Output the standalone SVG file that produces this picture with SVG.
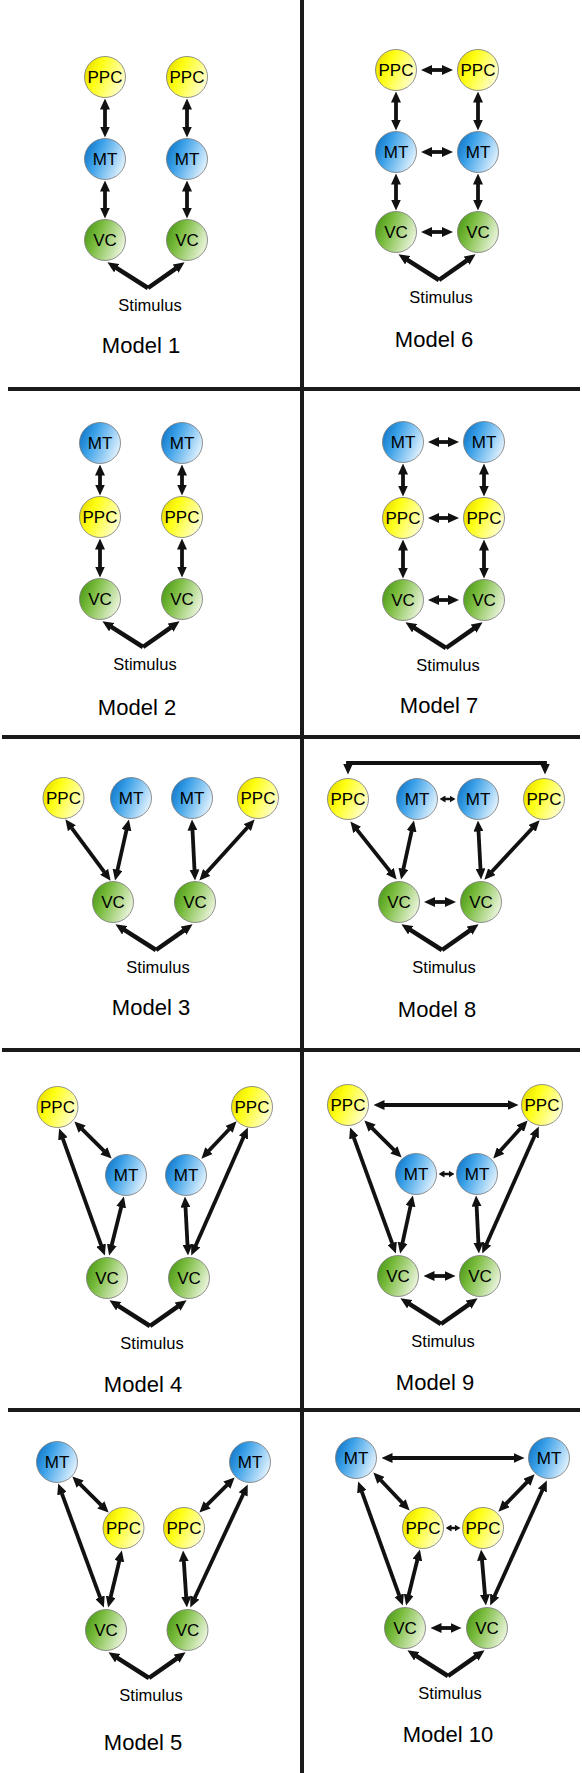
<svg xmlns="http://www.w3.org/2000/svg" xmlns:xlink="http://www.w3.org/1999/xlink" width="582" height="1773" viewBox="0 0 582 1773">
<style>
text{font-family:"Liberation Sans",Arial,sans-serif;fill:#000;text-anchor:middle}
.n text{font-size:17px}
.lbl{font-size:16.5px}
.ttl{font-size:22px}
circle{stroke:#777;stroke-width:0.8}
.ppc{fill:url(#gy)}
.mt{fill:url(#gb)}
.vc{fill:url(#gg)}
.sep{stroke:#1a1a1a;stroke-width:4;fill:none}
.a{stroke:#111;stroke-width:3.8;fill:none;marker-start:url(#ah);marker-end:url(#ah)}
.s{stroke:#111;stroke-width:2.5;fill:none;marker-start:url(#ahs);marker-end:url(#ahs)}
.st{stroke:#111;stroke-width:4.5;fill:none;marker-end:url(#ah)}
.br{stroke:#111;stroke-width:3.8;fill:none;stroke-linejoin:miter;marker-start:url(#ah);marker-end:url(#ah)}
</style>
<defs>
<linearGradient id="gy" x1="0" y1="0.3" x2="1" y2="0.7"><stop offset="0" stop-color="#e6dc00"/><stop offset="0.3" stop-color="#ffff10"/><stop offset="1" stop-color="#ffffe0"/></linearGradient>
<linearGradient id="gb" x1="0" y1="0.3" x2="1" y2="0.7"><stop offset="0" stop-color="#1478c8"/><stop offset="0.3" stop-color="#3aa0e8"/><stop offset="1" stop-color="#eaf6ff"/></linearGradient>
<linearGradient id="gg" x1="0" y1="0.3" x2="1" y2="0.7"><stop offset="0" stop-color="#4e9a1a"/><stop offset="0.3" stop-color="#78bb3c"/><stop offset="1" stop-color="#f2f8e6"/></linearGradient>
<marker id="ah" viewBox="0 0 11 10" refX="0.5" refY="5" markerWidth="11" markerHeight="10" markerUnits="userSpaceOnUse" orient="auto-start-reverse"><path d="M0,0 L11,5 L0,10 z" fill="#111"/></marker>
<marker id="ahs" viewBox="0 0 6 7" refX="0.5" refY="3.5" markerWidth="6" markerHeight="7" markerUnits="userSpaceOnUse" orient="auto-start-reverse"><path d="M0,0 L6,3.5 L0,7 z" fill="#111"/></marker>
<g id="stim"><line class="st" x1="43" y1="48" x2="11.3" y2="27.9"/><line class="st" x1="43" y1="48" x2="71" y2="28.3"/></g>
</defs>
<rect width="582" height="1773" fill="#fff"/>
<g id="separators">
<line class="sep" x1="302" y1="0" x2="302" y2="1773"/>
<line class="sep" x1="8" y1="389" x2="580" y2="389"/>
<line class="sep" x1="2" y1="737" x2="580" y2="737"/>
<line class="sep" x1="2" y1="1050" x2="580" y2="1050"/>
<line class="sep" x1="8" y1="1410" x2="580" y2="1410"/>
</g>
<g id="connectors">
<!-- Model 1 -->
<line class="a" x1="105" y1="109" x2="105" y2="127"/><line class="a" x1="187" y1="109" x2="187" y2="127"/>
<line class="a" x1="105" y1="191" x2="105" y2="208"/><line class="a" x1="187" y1="191" x2="187" y2="208"/>
<use xlink:href="#stim" href="#stim" transform="translate(105,240)"/>
<!-- Model 6 -->
<line class="a" x1="396" y1="102" x2="396" y2="120"/><line class="a" x1="478" y1="102" x2="478" y2="120"/>
<line class="a" x1="396" y1="184" x2="396" y2="200"/><line class="a" x1="478" y1="184" x2="478" y2="200"/>
<line class="a" x1="431.5" y1="70" x2="442.5" y2="70"/><line class="a" x1="431.5" y1="152" x2="442.5" y2="152"/><line class="a" x1="431.5" y1="232" x2="442.5" y2="232"/>
<use xlink:href="#stim" href="#stim" transform="translate(396,232)"/>
<!-- Model 2 -->
<line class="a" x1="100" y1="475" x2="100" y2="485"/><line class="a" x1="182" y1="475" x2="182" y2="485"/>
<line class="a" x1="100" y1="549" x2="100" y2="567"/><line class="a" x1="182" y1="549" x2="182" y2="567"/>
<use xlink:href="#stim" href="#stim" transform="translate(100,599)"/>
<!-- Model 7 -->
<line class="a" x1="403" y1="474" x2="403" y2="486"/><line class="a" x1="484" y1="474" x2="484" y2="486"/>
<line class="a" x1="403" y1="550" x2="403" y2="568"/><line class="a" x1="484" y1="550" x2="484" y2="568"/>
<line class="a" x1="438.5" y1="442" x2="448.5" y2="442"/><line class="a" x1="438.5" y1="518" x2="448.5" y2="518"/><line class="a" x1="438.5" y1="600" x2="448.5" y2="600"/>
<use xlink:href="#stim" href="#stim" transform="translate(403,600)"/>
<!-- Model 3 -->
<line class="a" x1="71.6" y1="827.8" x2="104.4" y2="872.2"/>
<line class="a" x1="126.6" y1="829.7" x2="117.4" y2="870.3"/>
<line class="a" x1="192.5" y1="830" x2="194.5" y2="870"/>
<line class="a" x1="247.6" y1="827.2" x2="206.4" y2="872.8"/>
<use xlink:href="#stim" href="#stim" transform="translate(113,902)"/>
<!-- Model 8 -->
<path class="br" d="M348,764 V763 H545 V764"/>
<line class="s" x1="445" y1="799" x2="450" y2="799"/>
<line class="a" x1="434.5" y1="902" x2="445.5" y2="902"/>
<line class="a" x1="356.9" y1="829.6" x2="390.1" y2="871.4"/>
<line class="a" x1="411.7" y1="830.8" x2="403.3" y2="869.3"/>
<line class="a" x1="478.5" y1="831" x2="480.5" y2="869"/>
<line class="a" x1="532.5" y1="828" x2="491.5" y2="872"/>
<use xlink:href="#stim" href="#stim" transform="translate(399,902)"/>
<!-- Model 4 -->
<line class="a" x1="81.8" y1="1128.8" x2="104.2" y2="1151.2"/>
<line class="a" x1="62.7" y1="1138.4" x2="101.3" y2="1245.6"/>
<line class="a" x1="121.3" y1="1206.7" x2="111.7" y2="1245.3"/>
<line class="a" x1="229.4" y1="1129" x2="208.6" y2="1151"/>
<line class="a" x1="243.6" y1="1137.1" x2="195.5" y2="1245.9"/>
<line class="a" x1="185.5" y1="1207" x2="187.5" y2="1245"/>
<use xlink:href="#stim" href="#stim" transform="translate(107,1278)"/>
<!-- Model 9 -->
<line class="a" x1="384" y1="1105" x2="508" y2="1105"/>
<line class="s" x1="444" y1="1174" x2="449" y2="1174"/>
<line class="a" x1="434" y1="1276" x2="445" y2="1276"/>
<line class="a" x1="371.8" y1="1127.8" x2="394.2" y2="1150.2"/>
<line class="a" x1="353.7" y1="1137.3" x2="392.3" y2="1243.7"/>
<line class="a" x1="410.6" y1="1205.7" x2="402.4" y2="1243.3"/>
<line class="a" x1="520.6" y1="1128.2" x2="500.3" y2="1150.8"/>
<line class="a" x1="534.5" y1="1136" x2="486.5" y2="1244"/>
<line class="a" x1="476.6" y1="1206" x2="478.4" y2="1243"/>
<use xlink:href="#stim" href="#stim" transform="translate(398,1276)"/>
<!-- Model 5 -->
<line class="a" x1="79.8" y1="1483.8" x2="101.2" y2="1505.2"/>
<line class="a" x1="61.8" y1="1493.3" x2="100.2" y2="1597.7"/>
<line class="a" x1="119.4" y1="1560.7" x2="110.6" y2="1597.3"/>
<line class="a" x1="227.2" y1="1484.8" x2="206.8" y2="1505.2"/>
<line class="a" x1="243.3" y1="1494" x2="194.7" y2="1598"/>
<line class="a" x1="183.8" y1="1561" x2="186.2" y2="1597"/>
<use xlink:href="#stim" href="#stim" transform="translate(106,1630)"/>
<!-- Model 10 -->
<line class="a" x1="392" y1="1458" x2="514" y2="1458"/>
<line class="s" x1="451" y1="1528" x2="455" y2="1528"/>
<line class="a" x1="441" y1="1628" x2="451" y2="1628"/>
<line class="a" x1="380.6" y1="1480" x2="402.4" y2="1503"/>
<line class="a" x1="361.7" y1="1491.3" x2="399.3" y2="1595.7"/>
<line class="a" x1="417.4" y1="1559.7" x2="408.6" y2="1595.3"/>
<line class="a" x1="527.3" y1="1481.9" x2="505.7" y2="1504.1"/>
<line class="a" x1="542.5" y1="1490" x2="494.5" y2="1596"/>
<line class="a" x1="482" y1="1560" x2="485" y2="1595"/>
<use xlink:href="#stim" href="#stim" transform="translate(405,1628)"/>
</g>
<!-- Model 1 nodes -->
<g id="m1-ppc-l" class="n"><circle class="ppc" cx="105" cy="77" r="20.5"/><text x="105" y="83">PPC</text></g>
<g id="m1-ppc-r" class="n"><circle class="ppc" cx="187" cy="77" r="20.5"/><text x="187" y="83">PPC</text></g>
<g id="m1-mt-l" class="n"><circle class="mt" cx="105" cy="159" r="20.5"/><text x="105" y="165">MT</text></g>
<g id="m1-mt-r" class="n"><circle class="mt" cx="187" cy="159" r="20.5"/><text x="187" y="165">MT</text></g>
<g id="m1-vc-l" class="n"><circle class="vc" cx="105" cy="240" r="20.5"/><text x="105" y="246">VC</text></g>
<g id="m1-vc-r" class="n"><circle class="vc" cx="187" cy="240" r="20.5"/><text x="187" y="246">VC</text></g>
<g id="m1-stimulus"><text class="lbl" x="150" y="310.5">Stimulus</text></g>
<g id="m1-title"><text class="ttl" x="141" y="353">Model 1</text></g>
<!-- Model 6 nodes -->
<g id="m6-ppc-l" class="n"><circle class="ppc" cx="396" cy="70" r="20.5"/><text x="396" y="76">PPC</text></g>
<g id="m6-ppc-r" class="n"><circle class="ppc" cx="478" cy="70" r="20.5"/><text x="478" y="76">PPC</text></g>
<g id="m6-mt-l" class="n"><circle class="mt" cx="396" cy="152" r="20.5"/><text x="396" y="158">MT</text></g>
<g id="m6-mt-r" class="n"><circle class="mt" cx="478" cy="152" r="20.5"/><text x="478" y="158">MT</text></g>
<g id="m6-vc-l" class="n"><circle class="vc" cx="396" cy="232" r="20.5"/><text x="396" y="238">VC</text></g>
<g id="m6-vc-r" class="n"><circle class="vc" cx="478" cy="232" r="20.5"/><text x="478" y="238">VC</text></g>
<g id="m6-stimulus"><text class="lbl" x="441" y="302.5">Stimulus</text></g>
<g id="m6-title"><text class="ttl" x="434" y="347">Model 6</text></g>
<!-- Model 2 nodes -->
<g id="m2-mt-l" class="n"><circle class="mt" cx="100" cy="443" r="20.5"/><text x="100" y="449">MT</text></g>
<g id="m2-mt-r" class="n"><circle class="mt" cx="182" cy="443" r="20.5"/><text x="182" y="449">MT</text></g>
<g id="m2-ppc-l" class="n"><circle class="ppc" cx="100" cy="517" r="20.5"/><text x="100" y="523">PPC</text></g>
<g id="m2-ppc-r" class="n"><circle class="ppc" cx="182" cy="517" r="20.5"/><text x="182" y="523">PPC</text></g>
<g id="m2-vc-l" class="n"><circle class="vc" cx="100" cy="599" r="20.5"/><text x="100" y="605">VC</text></g>
<g id="m2-vc-r" class="n"><circle class="vc" cx="182" cy="599" r="20.5"/><text x="182" y="605">VC</text></g>
<g id="m2-stimulus"><text class="lbl" x="145" y="669.5">Stimulus</text></g>
<g id="m2-title"><text class="ttl" x="137" y="715">Model 2</text></g>
<!-- Model 7 nodes -->
<g id="m7-mt-l" class="n"><circle class="mt" cx="403" cy="442" r="20.5"/><text x="403" y="448">MT</text></g>
<g id="m7-mt-r" class="n"><circle class="mt" cx="484" cy="442" r="20.5"/><text x="484" y="448">MT</text></g>
<g id="m7-ppc-l" class="n"><circle class="ppc" cx="403" cy="518" r="20.5"/><text x="403" y="524">PPC</text></g>
<g id="m7-ppc-r" class="n"><circle class="ppc" cx="484" cy="518" r="20.5"/><text x="484" y="524">PPC</text></g>
<g id="m7-vc-l" class="n"><circle class="vc" cx="403" cy="600" r="20.5"/><text x="403" y="606">VC</text></g>
<g id="m7-vc-r" class="n"><circle class="vc" cx="484" cy="600" r="20.5"/><text x="484" y="606">VC</text></g>
<g id="m7-stimulus"><text class="lbl" x="448" y="670.5">Stimulus</text></g>
<g id="m7-title"><text class="ttl" x="439" y="713">Model 7</text></g>
<!-- Model 3 nodes -->
<g id="m3-ppc-l" class="n"><circle class="ppc" cx="63.5" cy="798" r="20.5"/><text x="63.5" y="804">PPC</text></g>
<g id="m3-mt-l" class="n"><circle class="mt" cx="131" cy="798" r="20.5"/><text x="131" y="804">MT</text></g>
<g id="m3-mt-r" class="n"><circle class="mt" cx="192" cy="798" r="20.5"/><text x="192" y="804">MT</text></g>
<g id="m3-ppc-r" class="n"><circle class="ppc" cx="258" cy="798" r="20.5"/><text x="258" y="804">PPC</text></g>
<g id="m3-vc-l" class="n"><circle class="vc" cx="113" cy="902" r="20.5"/><text x="113" y="908">VC</text></g>
<g id="m3-vc-r" class="n"><circle class="vc" cx="195" cy="902" r="20.5"/><text x="195" y="908">VC</text></g>
<g id="m3-stimulus"><text class="lbl" x="158" y="972.5">Stimulus</text></g>
<g id="m3-title"><text class="ttl" x="151" y="1015">Model 3</text></g>
<!-- Model 8 nodes -->
<g id="m8-ppc-l" class="n"><circle class="ppc" cx="348" cy="799" r="20.5"/><text x="348" y="805">PPC</text></g>
<g id="m8-mt-l" class="n"><circle class="mt" cx="417" cy="799" r="20.5"/><text x="417" y="805">MT</text></g>
<g id="m8-mt-r" class="n"><circle class="mt" cx="478" cy="799" r="20.5"/><text x="478" y="805">MT</text></g>
<g id="m8-ppc-r" class="n"><circle class="ppc" cx="544" cy="799" r="20.5"/><text x="544" y="805">PPC</text></g>
<g id="m8-vc-l" class="n"><circle class="vc" cx="399" cy="902" r="20.5"/><text x="399" y="908">VC</text></g>
<g id="m8-vc-r" class="n"><circle class="vc" cx="481" cy="902" r="20.5"/><text x="481" y="908">VC</text></g>
<g id="m8-stimulus"><text class="lbl" x="444" y="972.5">Stimulus</text></g>
<g id="m8-title"><text class="ttl" x="437" y="1017">Model 8</text></g>
<!-- Model 4 nodes -->
<g id="m4-ppc-l" class="n"><circle class="ppc" cx="57.5" cy="1107" r="20.5"/><text x="57.5" y="1113">PPC</text></g>
<g id="m4-ppc-r" class="n"><circle class="ppc" cx="252" cy="1107" r="20.5"/><text x="252" y="1113">PPC</text></g>
<g id="m4-mt-l" class="n"><circle class="mt" cx="126" cy="1175" r="20.5"/><text x="126" y="1181">MT</text></g>
<g id="m4-mt-r" class="n"><circle class="mt" cx="186" cy="1175" r="20.5"/><text x="186" y="1181">MT</text></g>
<g id="m4-vc-l" class="n"><circle class="vc" cx="107" cy="1278" r="20.5"/><text x="107" y="1284">VC</text></g>
<g id="m4-vc-r" class="n"><circle class="vc" cx="189" cy="1278" r="20.5"/><text x="189" y="1284">VC</text></g>
<g id="m4-stimulus"><text class="lbl" x="152" y="1348.5">Stimulus</text></g>
<g id="m4-title"><text class="ttl" x="143" y="1392">Model 4</text></g>
<!-- Model 9 nodes -->
<g id="m9-ppc-l" class="n"><circle class="ppc" cx="348" cy="1105" r="20.5"/><text x="348" y="1111">PPC</text></g>
<g id="m9-ppc-r" class="n"><circle class="ppc" cx="542" cy="1105" r="20.5"/><text x="542" y="1111">PPC</text></g>
<g id="m9-mt-l" class="n"><circle class="mt" cx="416" cy="1174" r="20.5"/><text x="416" y="1180">MT</text></g>
<g id="m9-mt-r" class="n"><circle class="mt" cx="477" cy="1174" r="20.5"/><text x="477" y="1180">MT</text></g>
<g id="m9-vc-l" class="n"><circle class="vc" cx="398" cy="1276" r="20.5"/><text x="398" y="1282">VC</text></g>
<g id="m9-vc-r" class="n"><circle class="vc" cx="480" cy="1276" r="20.5"/><text x="480" y="1282">VC</text></g>
<g id="m9-stimulus"><text class="lbl" x="443" y="1346.5">Stimulus</text></g>
<g id="m9-title"><text class="ttl" x="435" y="1390">Model 9</text></g>
<!-- Model 5 nodes -->
<g id="m5-mt-l" class="n"><circle class="mt" cx="57" cy="1462" r="20.5"/><text x="57" y="1468">MT</text></g>
<g id="m5-mt-r" class="n"><circle class="mt" cx="250" cy="1462" r="20.5"/><text x="250" y="1468">MT</text></g>
<g id="m5-ppc-l" class="n"><circle class="ppc" cx="123.5" cy="1528" r="20.5"/><text x="123.5" y="1534">PPC</text></g>
<g id="m5-ppc-r" class="n"><circle class="ppc" cx="184" cy="1528" r="20.5"/><text x="184" y="1534">PPC</text></g>
<g id="m5-vc-l" class="n"><circle class="vc" cx="106" cy="1630" r="20.5"/><text x="106" y="1636">VC</text></g>
<g id="m5-vc-r" class="n"><circle class="vc" cx="187.5" cy="1630" r="20.5"/><text x="187.5" y="1636">VC</text></g>
<g id="m5-stimulus"><text class="lbl" x="151" y="1700.5">Stimulus</text></g>
<g id="m5-title"><text class="ttl" x="143" y="1750">Model 5</text></g>
<!-- Model 10 nodes -->
<g id="m10-mt-l" class="n"><circle class="mt" cx="356" cy="1458" r="20.5"/><text x="356" y="1464">MT</text></g>
<g id="m10-mt-r" class="n"><circle class="mt" cx="549" cy="1458" r="20.5"/><text x="549" y="1464">MT</text></g>
<g id="m10-ppc-l" class="n"><circle class="ppc" cx="423" cy="1528" r="20.5"/><text x="423" y="1534">PPC</text></g>
<g id="m10-ppc-r" class="n"><circle class="ppc" cx="483" cy="1528" r="20.5"/><text x="483" y="1534">PPC</text></g>
<g id="m10-vc-l" class="n"><circle class="vc" cx="405" cy="1628" r="20.5"/><text x="405" y="1634">VC</text></g>
<g id="m10-vc-r" class="n"><circle class="vc" cx="487" cy="1628" r="20.5"/><text x="487" y="1634">VC</text></g>
<g id="m10-stimulus"><text class="lbl" x="450" y="1698.5">Stimulus</text></g>
<g id="m10-title"><text class="ttl" x="448" y="1742">Model 10</text></g>
</svg>
